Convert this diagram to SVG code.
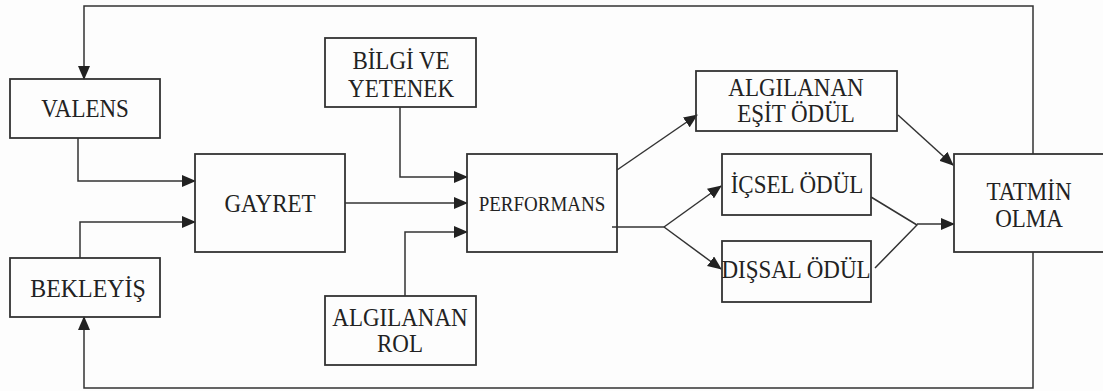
<svg xmlns="http://www.w3.org/2000/svg" width="1103" height="391" viewBox="0 0 1103 391" font-family="Liberation Serif, Times New Roman, serif">
<style>
.box{fill:none;stroke:#333;stroke-width:1.8}
.ln{fill:none;stroke:#333;stroke-width:1.5}
.ar{marker-end:url(#ah)}
text{font-family:'Liberation Serif','Times New Roman',serif;font-size:23px;fill:#222;text-anchor:middle}
.sm{font-size:19px}
</style>
<defs>
<marker id="ah" markerUnits="userSpaceOnUse" markerWidth="14" markerHeight="12" refX="13" refY="6" orient="auto">
<path d="M0,0 L14,6 L0,12 z" fill="#222"/>
</marker>
</defs>
<rect width="1103" height="391" fill="#fdfdfd"/>
<g id="connectors">
<path class="ln ar" d="M1033,154 V6 H84 V79"/>
<path class="ln ar" d="M1033,252 V388 H84 V317"/>
<path class="ln ar" d="M78,138 V181 H195"/>
<path class="ln ar" d="M80,258 V222 H195"/>
<path class="ln ar" d="M345,203 H467"/>
<path class="ln ar" d="M400,107 V177 H467"/>
<path class="ln ar" d="M405,296 V232 H467"/>
<path class="ln ar" d="M617,170 L697,115"/>
<path class="ln" d="M612,227 H664"/>
<path class="ln ar" d="M664,227 L721,186"/>
<path class="ln ar" d="M664,227 L721,269"/>
<path class="ln" d="M871,197 L917,225 L875,268"/>
<path class="ln ar" d="M917,224 H954"/>
<path class="ln ar" d="M898,115 L953,165"/>
</g>
<g id="valens"><rect class="box" x="10" y="79" width="150" height="59"/><text transform="translate(85 117) scale(1 1.1)">VALENS</text></g>
<g id="bekleyis"><rect class="box" x="10" y="258" width="150" height="59"/><text transform="translate(88 297) scale(1.04 1.1)">BEKLEYİŞ</text></g>
<g id="gayret"><rect class="box" x="195" y="154" width="150" height="98"/><text transform="translate(270 212) scale(1 1.1)">GAYRET</text></g>
<g id="bilgi"><rect class="box" x="325" y="38" width="151" height="69"/><text transform="translate(401 69) scale(1 1.1)">BİLGİ VE</text><text transform="translate(401 97) scale(1 1.1)">YETENEK</text></g>
<g id="rol"><rect class="box" x="325" y="296" width="151" height="69"/><text transform="translate(400 326) scale(1 1.1)">ALGILANAN</text><text transform="translate(400 352) scale(1 1.1)">ROL</text></g>
<g id="performans"><rect class="box" x="467" y="154" width="150" height="98"/><text class="sm" transform="translate(542 211) scale(1 1.1)">PERFORMANS</text></g>
<g id="esit"><rect class="box" x="696" y="71" width="201" height="60"/><text transform="translate(796 96) scale(1 1.1)">ALGILANAN</text><text transform="translate(796 122) scale(1 1.1)">EŞİT ÖDÜL</text></g>
<g id="icsel"><rect class="box" x="722" y="154" width="149" height="61"/><text transform="translate(797 193) scale(1 1.1)">İÇSEL ÖDÜL</text></g>
<g id="dissal"><rect class="box" x="722" y="241" width="149" height="61"/><text transform="translate(796 278) scale(1 1.1)">DIŞSAL ÖDÜL</text></g>
<g id="tatmin"><rect class="box" x="954" y="154" width="152" height="98"/><text transform="translate(1029 200) scale(1 1.1)">TATMİN</text><text transform="translate(1029 227) scale(1 1.1)">OLMA</text></g>
</svg>
